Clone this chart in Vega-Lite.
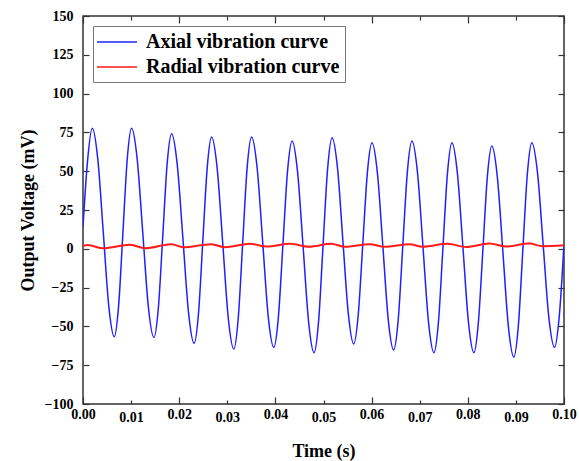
{
  "$schema": "https://vega.github.io/schema/vega-lite/v6.json",
  "width": 481,
  "height": 388,
  "autosize": {"type": "none"},
  "padding": {"left": 83, "top": 16, "right": 15, "bottom": 57},
  "background": "white",
  "config": {
    "view": {"stroke": "#333333", "strokeWidth": 1.5},
    "font": "Liberation Serif",
    "axis": {
      "grid": false,
      "domain": false,
      "labelFont": "Liberation Serif",
      "labelFontWeight": "bold",
      "labelFontSize": 14,
      "labelColor": "#000000",
      "titleFont": "Liberation Serif",
      "titleFontWeight": "bold",
      "titleFontSize": 18,
      "titleColor": "#000000",
      "tickColor": "#333333",
      "tickWidth": 1.2
    }
  },
  "datasets": {
    "curves": [
      {"series": "Axial vibration curve", "t": 0, "v": 14},
      {"series": "Axial vibration curve", "t": 0.0009, "v": 55},
      {"series": "Axial vibration curve", "t": 0.00193, "v": 77.6},
      {"series": "Axial vibration curve", "t": 0.00307, "v": 57.9},
      {"series": "Axial vibration curve", "t": 0.00422, "v": 10.5},
      {"series": "Axial vibration curve", "t": 0.00536, "v": -36.9},
      {"series": "Axial vibration curve", "t": 0.0065, "v": -56.6},
      {"series": "Axial vibration curve", "t": 0.0074, "v": -36.9},
      {"series": "Axial vibration curve", "t": 0.0083, "v": 10.5},
      {"series": "Axial vibration curve", "t": 0.0092, "v": 57.9},
      {"series": "Axial vibration curve", "t": 0.0101, "v": 77.6},
      {"series": "Axial vibration curve", "t": 0.01126, "v": 57.9},
      {"series": "Axial vibration curve", "t": 0.01243, "v": 10.2},
      {"series": "Axial vibration curve", "t": 0.01359, "v": -37.5},
      {"series": "Axial vibration curve", "t": 0.01475, "v": -57.2},
      {"series": "Axial vibration curve", "t": 0.01567, "v": -38.0},
      {"series": "Axial vibration curve", "t": 0.01659, "v": 8.5},
      {"series": "Axial vibration curve", "t": 0.0175, "v": 55.0},
      {"series": "Axial vibration curve", "t": 0.01842, "v": 74.2},
      {"series": "Axial vibration curve", "t": 0.01959, "v": 54.4},
      {"series": "Axial vibration curve", "t": 0.02077, "v": 6.7},
      {"series": "Axial vibration curve", "t": 0.02194, "v": -41.1},
      {"series": "Axial vibration curve", "t": 0.02311, "v": -60.9},
      {"series": "Axial vibration curve", "t": 0.02402, "v": -41.4},
      {"series": "Axial vibration curve", "t": 0.02492, "v": 5.6},
      {"series": "Axial vibration curve", "t": 0.02583, "v": 52.5},
      {"series": "Axial vibration curve", "t": 0.02673, "v": 72.0},
      {"series": "Axial vibration curve", "t": 0.02789, "v": 52.0},
      {"series": "Axial vibration curve", "t": 0.02905, "v": 3.7},
      {"series": "Axial vibration curve", "t": 0.0302, "v": -44.6},
      {"series": "Axial vibration curve", "t": 0.03136, "v": -64.6},
      {"series": "Axial vibration curve", "t": 0.03228, "v": -44.6},
      {"series": "Axial vibration curve", "t": 0.0332, "v": 3.7},
      {"series": "Axial vibration curve", "t": 0.03412, "v": 52.0},
      {"series": "Axial vibration curve", "t": 0.03504, "v": 72.0},
      {"series": "Axial vibration curve", "t": 0.0362, "v": 52.2},
      {"series": "Axial vibration curve", "t": 0.03736, "v": 4.3},
      {"series": "Axial vibration curve", "t": 0.03851, "v": -43.7},
      {"series": "Axial vibration curve", "t": 0.03967, "v": -63.5},
      {"series": "Axial vibration curve", "t": 0.04062, "v": -44.0},
      {"series": "Axial vibration curve", "t": 0.04157, "v": 3.0},
      {"series": "Axial vibration curve", "t": 0.04252, "v": 49.9},
      {"series": "Axial vibration curve", "t": 0.04347, "v": 69.4},
      {"series": "Axial vibration curve", "t": 0.04461, "v": 49.4},
      {"series": "Axial vibration curve", "t": 0.04576, "v": 1.3},
      {"series": "Axial vibration curve", "t": 0.0469, "v": -46.9},
      {"series": "Axial vibration curve", "t": 0.04804, "v": -66.9},
      {"series": "Axial vibration curve", "t": 0.04898, "v": -46.6},
      {"series": "Axial vibration curve", "t": 0.04991, "v": 2.4},
      {"series": "Axial vibration curve", "t": 0.05085, "v": 51.3},
      {"series": "Axial vibration curve", "t": 0.05178, "v": 71.6},
      {"series": "Axial vibration curve", "t": 0.05291, "v": 52.1},
      {"series": "Axial vibration curve", "t": 0.05403, "v": 5.2},
      {"series": "Axial vibration curve", "t": 0.05516, "v": -41.8},
      {"series": "Axial vibration curve", "t": 0.05628, "v": -61.3},
      {"series": "Axial vibration curve", "t": 0.05723, "v": -42.3},
      {"series": "Axial vibration curve", "t": 0.05818, "v": 3.6},
      {"series": "Axial vibration curve", "t": 0.05913, "v": 49.4},
      {"series": "Axial vibration curve", "t": 0.06008, "v": 68.4},
      {"series": "Axial vibration curve", "t": 0.06121, "v": 48.8},
      {"series": "Axial vibration curve", "t": 0.06234, "v": 1.6},
      {"series": "Axial vibration curve", "t": 0.06346, "v": -45.6},
      {"series": "Axial vibration curve", "t": 0.06459, "v": -65.2},
      {"series": "Axial vibration curve", "t": 0.06554, "v": -45.5},
      {"series": "Axial vibration curve", "t": 0.06649, "v": 2.1},
      {"series": "Axial vibration curve", "t": 0.06744, "v": 49.7},
      {"series": "Axial vibration curve", "t": 0.06839, "v": 69.4},
      {"series": "Axial vibration curve", "t": 0.06953, "v": 49.4},
      {"series": "Axial vibration curve", "t": 0.07068, "v": 1.3},
      {"series": "Axial vibration curve", "t": 0.07182, "v": -46.9},
      {"series": "Axial vibration curve", "t": 0.07296, "v": -66.9},
      {"series": "Axial vibration curve", "t": 0.0739, "v": -47.1},
      {"series": "Axial vibration curve", "t": 0.07483, "v": 0.8},
      {"series": "Axial vibration curve", "t": 0.07577, "v": 48.6},
      {"series": "Axial vibration curve", "t": 0.0767, "v": 68.4},
      {"series": "Axial vibration curve", "t": 0.07784, "v": 48.6},
      {"series": "Axial vibration curve", "t": 0.07899, "v": 0.8},
      {"series": "Axial vibration curve", "t": 0.08013, "v": -47.1},
      {"series": "Axial vibration curve", "t": 0.08127, "v": -66.9},
      {"series": "Axial vibration curve", "t": 0.0822, "v": -47.4},
      {"series": "Axial vibration curve", "t": 0.08314, "v": -0.4},
      {"series": "Axial vibration curve", "t": 0.08407, "v": 46.7},
      {"series": "Axial vibration curve", "t": 0.085, "v": 66.2},
      {"series": "Axial vibration curve", "t": 0.08614, "v": 46.3},
      {"series": "Axial vibration curve", "t": 0.08729, "v": -1.8},
      {"series": "Axial vibration curve", "t": 0.08843, "v": -49.8},
      {"series": "Axial vibration curve", "t": 0.08957, "v": -69.7},
      {"series": "Axial vibration curve", "t": 0.09051, "v": -49.5},
      {"series": "Axial vibration curve", "t": 0.09144, "v": -0.7},
      {"series": "Axial vibration curve", "t": 0.09238, "v": 48.2},
      {"series": "Axial vibration curve", "t": 0.09331, "v": 68.4},
      {"series": "Axial vibration curve", "t": 0.09449, "v": 49.1},
      {"series": "Axial vibration curve", "t": 0.09567, "v": 2.5},
      {"series": "Axial vibration curve", "t": 0.09685, "v": -44.2},
      {"series": "Axial vibration curve", "t": 0.09803, "v": -63.5},
      {"series": "Axial vibration curve", "t": 0.099, "v": -44},
      {"series": "Axial vibration curve", "t": 0.1, "v": 3},
      {"series": "Radial vibration curve", "t": 0, "v": 1.8},
      {"series": "Radial vibration curve", "t": 0.001, "v": 2.4},
      {"series": "Radial vibration curve", "t": 0.0042, "v": 0.3},
      {"series": "Radial vibration curve", "t": 0.0098, "v": 2.6},
      {"series": "Radial vibration curve", "t": 0.0129, "v": 0.4},
      {"series": "Radial vibration curve", "t": 0.0184, "v": 3.0},
      {"series": "Radial vibration curve", "t": 0.0208, "v": 1.0},
      {"series": "Radial vibration curve", "t": 0.0267, "v": 3.0},
      {"series": "Radial vibration curve", "t": 0.0295, "v": 1.0},
      {"series": "Radial vibration curve", "t": 0.0347, "v": 3.2},
      {"series": "Radial vibration curve", "t": 0.0382, "v": 1.5},
      {"series": "Radial vibration curve", "t": 0.043, "v": 3.2},
      {"series": "Radial vibration curve", "t": 0.047, "v": 1.3},
      {"series": "Radial vibration curve", "t": 0.0516, "v": 3.2},
      {"series": "Radial vibration curve", "t": 0.0544, "v": 1.3},
      {"series": "Radial vibration curve", "t": 0.0596, "v": 2.9},
      {"series": "Radial vibration curve", "t": 0.0627, "v": 1.3},
      {"series": "Radial vibration curve", "t": 0.0679, "v": 2.9},
      {"series": "Radial vibration curve", "t": 0.0706, "v": 1.3},
      {"series": "Radial vibration curve", "t": 0.0758, "v": 3.2},
      {"series": "Radial vibration curve", "t": 0.0797, "v": 1.2},
      {"series": "Radial vibration curve", "t": 0.0845, "v": 3.4},
      {"series": "Radial vibration curve", "t": 0.088, "v": 1.5},
      {"series": "Radial vibration curve", "t": 0.0928, "v": 3.4},
      {"series": "Radial vibration curve", "t": 0.0955, "v": 1.7},
      {"series": "Radial vibration curve", "t": 0.1, "v": 2.3}
    ]
  },
  "data": {"name": "curves"},
  "layer": [
    {
      "transform": [{"filter": "datum.series === 'Axial vibration curve'"}],
      "mark": {"type": "line", "strokeWidth": 1.5, "interpolate": "monotone", "clip": true},
      "encoding": {
        "x": {
          "field": "t", "type": "quantitative",
          "scale": {"domain": [0, 0.1], "nice": false, "zero": false},
          "axis": {
            "orient": "bottom",
            "values": [0, 0.01, 0.02, 0.03, 0.04, 0.05, 0.06, 0.07, 0.08, 0.09, 0.1],
            "format": ".2f",
            "tickSize": {"condition": {"test": "round(datum.value * 100) % 2 === 0", "value": -7}, "value": -4},
            "labelPadding": 10,
            "labelFlush": false,
            "title": "Time (s)",
            "titlePadding": 18
          }
        },
        "y": {
          "field": "v", "type": "quantitative",
          "scale": {"domain": [-100, 150], "nice": false, "zero": false},
          "axis": {
            "orient": "left",
            "values": [-100, -75, -50, -25, 0, 25, 50, 75, 100, 125, 150],
            "format": "d",
            "tickSize": -6,
            "labelPadding": 16,
            "title": "Output Voltage (mV)",
            "titlePadding": 7
          }
        },
        "color": {
          "field": "series", "type": "nominal",
          "scale": {"domain": ["Axial vibration curve", "Radial vibration curve"], "range": ["#2020ff", "#ff1a1a"]},
          "legend": {
            "orient": "none", "legendX": 10, "legendY": 10,
            "title": null,
            "symbolType": "M-2,0H2", "symbolSize": 400, "symbolStrokeWidth": 1.5,
            "symbolOffset": 8,
            "labelFont": "Liberation Serif", "labelFontWeight": "bold", "labelFontSize": 20, "labelColor": "#000000",
            "labelLimit": 400,
            "labelOffset": 18,
            "strokeColor": "#777777", "fillColor": "#ffffff",
            "padding": 5, "rowPadding": 4
          }
        }
      }
    },
    {
      "transform": [{"filter": "datum.series === 'Radial vibration curve'"}],
      "mark": {"type": "line", "strokeWidth": 2, "interpolate": "monotone", "clip": true},
      "encoding": {
        "x": {
          "field": "t", "type": "quantitative",
          "axis": {
            "orient": "top",
            "values": [0, 0.01, 0.02, 0.03, 0.04, 0.05, 0.06, 0.07, 0.08, 0.09, 0.1],
            "labels": false,
            "tickSize": {"condition": {"test": "round(datum.value * 100) % 2 === 0", "value": -7}, "value": -4},
            "title": null
          }
        },
        "y": {
          "field": "v", "type": "quantitative",
          "axis": {
            "orient": "right",
            "values": [-100, -75, -50, -25, 0, 25, 50, 75, 100, 125, 150],
            "labels": false,
            "tickSize": -6,
            "title": null
          }
        },
        "color": {"field": "series", "type": "nominal"}
      }
    }
  ],
  "resolve": {"axis": {"x": "independent", "y": "independent"}}
}
